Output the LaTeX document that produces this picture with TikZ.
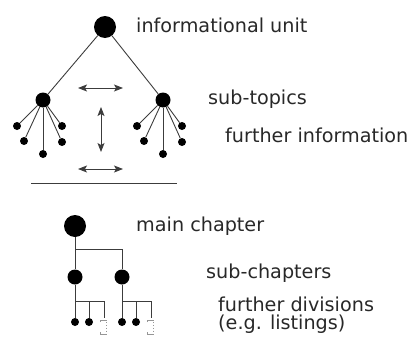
\documentclass[tikz,border=0pt]{standalone}
\usepackage{fontspec}
\setmainfont{DejaVu Sans}
\usetikzlibrary{arrows.meta,positioning,calc}
\definecolor{linegray}{RGB}{60,60,60}
\definecolor{textgray}{RGB}{40,40,40}
\definecolor{dotgray}{RGB}{150,150,150}

\begin{document}
\begin{tikzpicture}[x=1pt, y=-1pt,
    bigdot/.style={circle, fill=black, inner sep=0pt, minimum size=22pt},
    middot/.style={circle, fill=black, inner sep=0pt, minimum size=15pt},
    leafdot/.style={circle, fill=black, inner sep=0pt, minimum size=8pt},
    link/.style={draw=linegray, line width=0.9pt},
    twoway/.style={linegray, line width=0.9pt, {Stealth[length=9pt,width=7pt,inset=2pt]}-{Stealth[length=9pt,width=7pt,inset=2pt]}},
    label/.style={anchor=west, inner sep=0pt, text=textgray, font=\fontsize{19.2}{22}\selectfont}
]
\useasboundingbox (0,0) rectangle (417,340);

% upper tree: informational unit
\node[bigdot] (unit) at (105,27) {};
\node[middot] (topicL) at (43,100) {};
\node[middot] (topicR) at (163,100) {};
\draw[link] (unit) -- (topicL);
\draw[link] (unit) -- (topicR);
\foreach \side/\cx in {L/43, R/163} {
  \node[leafdot] (info\side1) at (\cx-26,126) {};
  \node[leafdot] (info\side2) at (\cx-19,141) {};
  \node[leafdot] (info\side3) at (\cx,154) {};
  \node[leafdot] (info\side4) at (\cx+19,126) {};
  \node[leafdot] (info\side5) at (\cx+19,142) {};
  \foreach \k in {1,...,5}
    \draw[link] (topic\side) -- (info\side\k);
}

% arrows between the trees
\coordinate (hA1) at (78,88);  \coordinate (hA2) at (123,88);
\coordinate (vA1) at (101,107); \coordinate (vA2) at (101,152);
\coordinate (hB1) at (78,169); \coordinate (hB2) at (123,169);
\draw[twoway] (hA1) -- (hA2);
\draw[twoway] (vA1) -- (vA2);
\draw[twoway] (hB1) -- (hB2);

% separator
\coordinate (sepL) at (31,183); \coordinate (sepR) at (177,183);
\draw[link] (sepL) -- (sepR);

% lower tree: main chapter
\node[bigdot] (chapter) at (75,226) {};
\node[middot] (subA) at (75,277) {};
\node[middot] (subB) at (122,277) {};
\coordinate (fork) at (75,249);
\draw[link] (chapter) -- (subA);
\draw[link] (fork) -| (subB);
\foreach \sub/\cx in {A/75, B/122} {
  \node[leafdot] (div\sub1) at (\cx,322) {};
  \node[leafdot] (div\sub2) at (\cx+14,322) {};
  \coordinate (bar\sub) at (\cx,301);
  \coordinate (end\sub) at (\cx+29,318);
  \draw[link] (sub\sub) -- (div\sub1);
  \draw[link] (bar\sub) -| (end\sub);
  \draw[link] (div\sub2) -- (div\sub2 |- bar\sub);
  % "more" bracket
  \draw[dotgray, line width=0.8pt] (\cx+25,322) -- (\cx+25,320) -- (\cx+32,320);
  \draw[dotgray, line width=0.8pt] (\cx+25,332) -- (\cx+25,334) -- (\cx+32,334);
  \draw[dotgray, line width=0.9pt, dotted] (\cx+31,322) -- (\cx+31,333);
}

% labels
\node[label] (lunit) at (136,25) {informational unit};
\node[label] (ltopics) at (208,99) {sub-topics};
\node[label] (linfo) at (225,135) {further information};
\node[label] (lchapter) at (136,226) {main chapter};
\node[label] (lsub) at (206,273) {sub-chapters};
\node[label] (ldiv) at (218,304) {further divisions};
\node[label] (llist) at (218,324) {(e.g. listings)};
\end{tikzpicture}
\end{document}
